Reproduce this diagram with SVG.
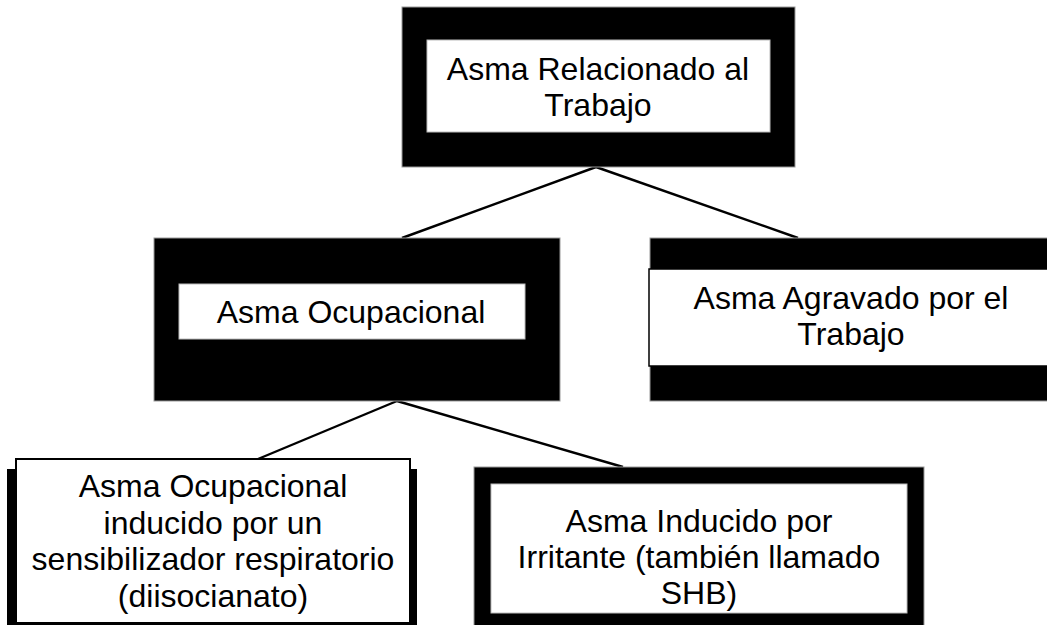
<svg xmlns="http://www.w3.org/2000/svg" width="1047" height="625" viewBox="0 0 1047 625">
<style>
.frame{fill:#000;stroke:#999;stroke-width:1}
.inner{fill:#fff;stroke:#bbb;stroke-width:1}
.edge{stroke:#000;stroke-width:2.4;fill:none}
text{font-family:"Liberation Sans",Arial,sans-serif;font-size:32px;fill:#000;text-anchor:middle}
</style>
<rect width="1047" height="625" fill="#fff"/>
<g id="connectors">
<line class="edge" x1="596" y1="167" x2="402" y2="238"/>
<line class="edge" x1="596" y1="167" x2="798" y2="238"/>
<line class="edge" x1="397" y1="401" x2="258" y2="459"/>
<line class="edge" x1="397" y1="401" x2="623" y2="467"/>
</g>
<g id="node-relacionado">
<rect class="frame" x="402" y="7" width="393" height="160"/>
<rect class="inner" x="427" y="40" width="343" height="92"/>
<text x="598" y="80">Asma Relacionado al</text>
<text x="598" y="116">Trabajo</text>
</g>
<g id="node-ocupacional">
<rect class="frame" x="154" y="238" width="406" height="163"/>
<rect class="inner" x="179" y="284" width="346" height="55"/>
<text x="351" y="323">Asma Ocupacional</text>
</g>
<g id="node-agravado">
<rect class="frame" x="650" y="238" width="410" height="163"/>
<rect x="649" y="269" width="411" height="97" fill="#fff" stroke="#000" stroke-width="1.5"/>
<text x="851" y="309">Asma Agravado por el</text>
<text x="851" y="345">Trabajo</text>
</g>
<g id="node-sensibilizador">
<rect x="7" y="469" width="410" height="160" fill="#000"/>
<rect x="16" y="459" width="394" height="164" fill="#fff" stroke="#000" stroke-width="2"/>
<text x="213" y="497">Asma Ocupacional</text>
<text x="213" y="534">inducido por un</text>
<text x="213" y="570">sensibilizador respiratorio</text>
<text x="213" y="607">(diisocianato)</text>
</g>
<g id="node-irritante">
<rect class="frame" x="474" y="467" width="450" height="165"/>
<rect class="inner" x="491" y="484" width="416" height="129"/>
<text x="699" y="532">Asma Inducido por</text>
<text x="699" y="568">Irritante (también llamado</text>
<text x="699" y="604">SHB)</text>
</g>
</svg>
